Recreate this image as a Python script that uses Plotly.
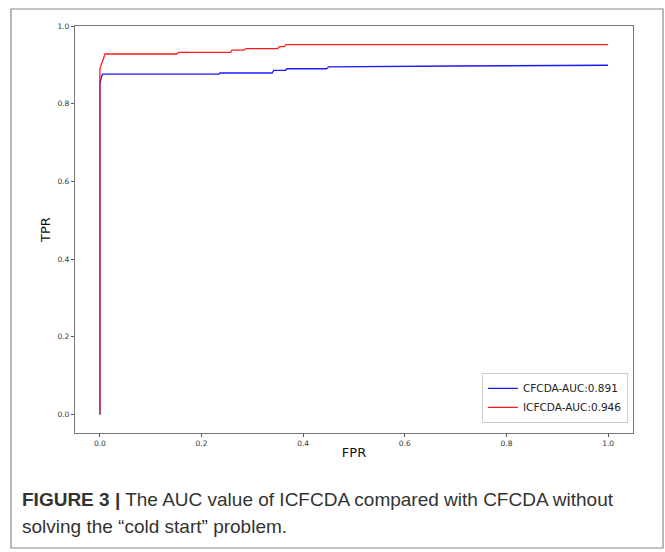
import plotly.graph_objects as go

# CFCDA ROC curve (blue)
cf_fpr = [0.0, 0.0, 0.003, 0.005, 0.234, 0.236, 0.339, 0.342, 0.365, 0.368, 0.446, 0.45, 0.7, 1.0]
cf_tpr = [0.0, 0.851, 0.868, 0.876, 0.876, 0.879, 0.879, 0.886, 0.886, 0.890, 0.890, 0.895, 0.897, 0.899]

# ICFCDA ROC curve (red)
ic_fpr = [0.0, 0.0, 0.01, 0.151, 0.155, 0.257, 0.26, 0.283, 0.288, 0.35, 0.353, 0.363, 0.366, 1.0]
ic_tpr = [0.0, 0.89, 0.928, 0.928, 0.932, 0.932, 0.938, 0.938, 0.942, 0.942, 0.947, 0.947, 0.952, 0.952]

tick_vals = [0.0, 0.2, 0.4, 0.6, 0.8, 1.0]
tick_text = ["0.0", "0.2", "0.4", "0.6", "0.8", "1.0"]

fig = go.Figure()
fig.add_trace(go.Scatter(x=cf_fpr, y=cf_tpr, mode="lines", name="CFCDA-AUC:0.891",
                         line=dict(color="#1a1aff", width=1.3)))
fig.add_trace(go.Scatter(x=ic_fpr, y=ic_tpr, mode="lines", name="ICFCDA-AUC:0.946",
                         line=dict(color="#ff1a1a", width=1.3)))

axis_common = dict(showgrid=False, zeroline=False, showline=True, linecolor="#777777",
                   linewidth=1.3, mirror=True, ticks="outside", ticklen=3, tickwidth=1,
                   tickcolor="#555555", tickfont=dict(family="DejaVu Sans", size=7.5, color="#333333"),
                   tickvals=tick_vals, ticktext=tick_text)

fig.update_layout(
    width=665, height=552,
    margin=dict(l=75, r=32, t=26, b=119),
    paper_bgcolor="white", plot_bgcolor="white",
    xaxis=dict(range=[-0.049, 1.049], title=dict(text="FPR", font=dict(family="DejaVu Sans", size=13, color="#111"), standoff=0), **axis_common),
    yaxis=dict(range=[-0.0475, 1.0], title=dict(text="TPR", font=dict(family="DejaVu Sans", size=13, color="#111"), standoff=3), **axis_common),
    legend=dict(x=0.991, y=0.025, xanchor="right", yanchor="bottom",
                bordercolor="#cccccc", borderwidth=1, bgcolor="white",
                font=dict(family="DejaVu Sans", size=10.5, color="#222"),
                itemwidth=30, tracegroupgap=0),
    showlegend=True,
)

# outer figure frame
fig.add_shape(type="rect", xref="paper", yref="paper",
              x0=-0.1147, x1=1.0538, y0=-0.2826, y1=1.0418,
              line=dict(color="#888888", width=1.2), fillcolor="rgba(0,0,0,0)", layer="below")

fig.add_annotation(xref="paper", yref="paper", x=-0.099, y=-0.163, xanchor="left", yanchor="middle",
                   showarrow=False, align="left",
                   text="<b>FIGURE 3 |</b> The AUC value of ICFCDA compared with CFCDA without",
                   font=dict(family="Liberation Sans", size=19, color="#333333"))
fig.add_annotation(xref="paper", yref="paper", x=-0.099, y=-0.229, xanchor="left", yanchor="middle",
                   showarrow=False, align="left",
                   text="solving the \u201ccold start\u201d problem.",
                   font=dict(family="Liberation Sans", size=19, color="#333333"))

fig.write_html("out.html")
